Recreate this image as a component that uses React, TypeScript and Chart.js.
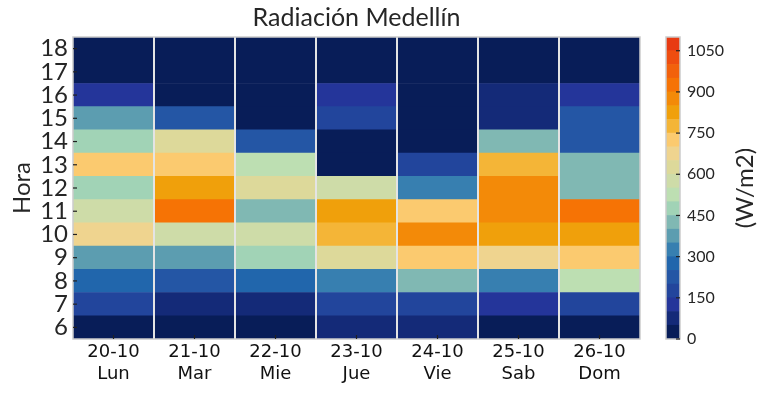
import React, { useEffect, useRef } from "react";
import { Chart, registerables } from "chart.js";

Chart.register(...registerables);

const TITLE = "Radiación Medellín";
const HOURS = [6, 7, 8, 9, 10, 11, 12, 13, 14, 15, 16, 17, 18];
const DAY_LABELS = [
  ["20-10", "Lun"],
  ["21-10", "Mar"],
  ["22-10", "Mie"],
  ["23-10", "Jue"],
  ["24-10", "Vie"],
  ["25-10", "Sab"],
  ["26-10", "Dom"],
];
// radiation (W/m2) per hour, from 6h to 18h
const LUN = [20, 175, 275, 375, 675, 575, 475, 725, 475, 375, 125, 10, 0];
const MAR = [25, 75, 225, 375, 575, 925, 825, 725, 625, 225, 20, 0, 0];
const MIE = [25, 75, 275, 475, 575, 425, 625, 525, 225, 20, 10, 0, 0];
const JUE = [75, 175, 325, 625, 775, 825, 575, 20, 20, 175, 125, 10, 0];
const VIE = [75, 175, 425, 725, 875, 725, 325, 175, 20, 10, 0, 0, 0];
const SAB = [25, 125, 325, 675, 825, 875, 875, 775, 425, 75, 75, 10, 0];
const DOM = [25, 175, 525, 725, 825, 925, 425, 425, 225, 225, 125, 10, 0];
const SERIES = [LUN, MAR, MIE, JUE, VIE, SAB, DOM];

const COLOR_LEVELS = [
  0, 50, 100, 150, 200, 250, 300, 350, 400, 450, 500, 550, 600, 650, 700, 750,
  800, 850, 900, 950, 1000, 1050, 1100,
];
const COLORS = [
  "#081d58", "#142a78", "#24359a", "#22459c", "#2456a5", "#2166ac",
  "#377fb0", "#5c9db0", "#80b8b3", "#a1d3b6", "#bddfb2", "#cedca8",
  "#ddd99a", "#efd48f", "#fbca6f", "#f4b537", "#f0a00b", "#f38a08",
  "#f67305", "#f2610c", "#ee4d10", "#e83a12",
];
const CB_TICKS = [0, 150, 300, 450, 600, 750, 900, 1050];
const CB_LABEL = "(W/m2)";
const Y_LABEL = "Hora";

const TEXT = "#262626";
const FONT = "Lato";

function colorFor(v: number) {
  for (let i = COLORS.length - 1; i >= 0; i--) {
    if (v >= COLOR_LEVELS[i]) return COLORS[i];
  }
  return COLORS[0];
}

const framePlugin = {
  id: "frameTicks",
  afterDraw(chart: any, _args: any, opts: any) {
    const { ctx, chartArea } = chart;
    ctx.save();
    if (opts.separators) {
      const xs = chart.scales.x;
      const n = xs.ticks.length;
      ctx.strokeStyle = "#e4e4e4";
      ctx.lineWidth = 2;
      for (let i = 0; i < n - 1; i++) {
        const p = (xs.getPixelForTick(i) + xs.getPixelForTick(i + 1)) / 2;
        ctx.beginPath();
        ctx.moveTo(p, chartArea.top);
        ctx.lineTo(p, chartArea.bottom);
        ctx.stroke();
      }
    }
    ctx.strokeStyle = "#cccccc";
    ctx.lineWidth = 1.5;
    ctx.strokeRect(
      chartArea.left,
      chartArea.top,
      chartArea.right - chartArea.left,
      chartArea.bottom - chartArea.top
    );
    ctx.strokeStyle = "#222222";
    ctx.lineWidth = 1.2;
    if (opts.yLeft) {
      const ys = chart.scales.y;
      ys.ticks.forEach((t: any) => {
        const p = ys.getPixelForValue(t.value);
        ctx.beginPath();
        ctx.moveTo(chartArea.left, p);
        ctx.lineTo(chartArea.left + 4, p);
        ctx.stroke();
      });
    }
    if (opts.yRight) {
      const ys = chart.scales.y;
      ys.ticks.forEach((t: any) => {
        const p = ys.getPixelForValue(t.value);
        ctx.beginPath();
        ctx.moveTo(chartArea.right - 4, p);
        ctx.lineTo(chartArea.right, p);
        ctx.stroke();
      });
    }
    if (opts.xBottom) {
      const xs = chart.scales.x;
      xs.ticks.forEach((_t: any, i: number) => {
        const p = xs.getPixelForTick(i);
        ctx.beginPath();
        ctx.moveTo(p, chartArea.bottom - 4);
        ctx.lineTo(p, chartArea.bottom);
        ctx.stroke();
      });
    }
    if (opts.sideLabel) {
      ctx.fillStyle = TEXT;
      ctx.font = `24px ${FONT}`;
      ctx.textAlign = "center";
      ctx.textBaseline = "middle";
      ctx.translate(opts.sideX, (chartArea.top + chartArea.bottom) / 2);
      ctx.rotate(-Math.PI / 2);
      ctx.fillText(opts.sideLabel, 0, 0);
    }
    ctx.restore();
  },
};

export default function App() {
  const mainRef = useRef<HTMLCanvasElement>(null);
  const cbRef = useRef<HTMLCanvasElement>(null);

  useEffect(() => {
    document.body.style.margin = "0";
    const datasets = HOURS.map((h, i) => ({
      label: String(h),
      data: SERIES.map(() => [h - 0.5, h + 0.5]),
      backgroundColor: SERIES.map((s) => colorFor(s[i])),
      borderWidth: 0,
      grouped: false,
      barPercentage: 1,
      categoryPercentage: 1,
    }));

    const main = new Chart(mainRef.current!, {
      type: "bar",
      data: { labels: DAY_LABELS as any, datasets: datasets as any },
      plugins: [framePlugin],
      options: {
        animation: false,
        responsive: false,
        maintainAspectRatio: false,
        layout: { padding: { left: 0, right: 127, top: 0, bottom: 0 } },
        plugins: {
          legend: { display: false },
          tooltip: { enabled: false },
          title: {
            display: true,
            text: TITLE,
            fullSize: false,
            color: TEXT,
            font: { family: FONT, size: 25, weight: "normal" },
            padding: { top: 3, bottom: 4 },
          },
          frameTicks: { yLeft: true, xBottom: true, separators: true },
        } as any,
        scales: {
          x: {
            type: "category",
            grid: { display: false, drawTicks: false },
            border: { display: false },
            ticks: {
              color: "#111111",
              font: { family: "DejaVu Sans", size: 18, lineHeight: 1.2 },
              padding: 3,
              maxRotation: 0,
            },
            afterFit: (s: any) => {
              s.height = 56;
            },
          },
          y: {
            type: "linear",
            min: 5.5,
            max: 18.5,
            afterBuildTicks: (s: any) => {
              s.ticks = HOURS.map((v) => ({ value: v }));
            },
            grid: { display: false, drawTicks: false },
            border: { display: false },
            ticks: {
              color: TEXT,
              font: { family: FONT, size: 24 },
              padding: 5,
              autoSkip: false,
            },
            title: {
              display: true,
              text: Y_LABEL,
              color: TEXT,
              font: { family: FONT, size: 24 },
              padding: { top: 8, bottom: 0 },
            },
            afterFit: (s: any) => {
              s.width = 73;
            },
          },
        },
      } as any,
    });

    const cbDatasets = COLORS.map((c, i) => ({
      data: [[COLOR_LEVELS[i], COLOR_LEVELS[i + 1]]],
      backgroundColor: c,
      borderWidth: 0,
      grouped: false,
      barPercentage: 1,
      categoryPercentage: 1,
    }));

    const cb = new Chart(cbRef.current!, {
      type: "bar",
      data: { labels: ["cb"], datasets: cbDatasets as any },
      plugins: [framePlugin],
      options: {
        animation: false,
        responsive: false,
        maintainAspectRatio: false,
        layout: { padding: { left: 666, right: 0, top: 37, bottom: 56 } },
        plugins: {
          legend: { display: false },
          tooltip: { enabled: false },
          title: { display: false },
          frameTicks: { yRight: true, sideLabel: CB_LABEL, sideX: 745 },
        } as any,
        scales: {
          x: { display: false },
          y: {
            type: "linear",
            position: "right",
            min: 0,
            max: 1100,
            afterBuildTicks: (s: any) => {
              s.ticks = CB_TICKS.map((v) => ({ value: v }));
            },
            grid: { display: false, drawTicks: false },
            border: { display: false },
            ticks: {
              color: TEXT,
              font: { family: FONT, size: 16 },
              padding: 7,
              autoSkip: false,
              callback: (v: any) => String(v),
            },
            afterFit: (s: any) => {
              s.width = 87;
            },
          },
        },
      } as any,
    });

    return () => {
      main.destroy();
      cb.destroy();
    };
  }, []);

  return (
    <div style={{ position: "relative", width: 767, height: 395 }}>
      <canvas
        ref={mainRef}
        width={767}
        height={395}
        style={{ position: "absolute", left: 0, top: 0, width: 767, height: 395 }}
      />
      <canvas
        ref={cbRef}
        width={767}
        height={395}
        style={{ position: "absolute", left: 0, top: 0, width: 767, height: 395 }}
      />
    </div>
  );
}
